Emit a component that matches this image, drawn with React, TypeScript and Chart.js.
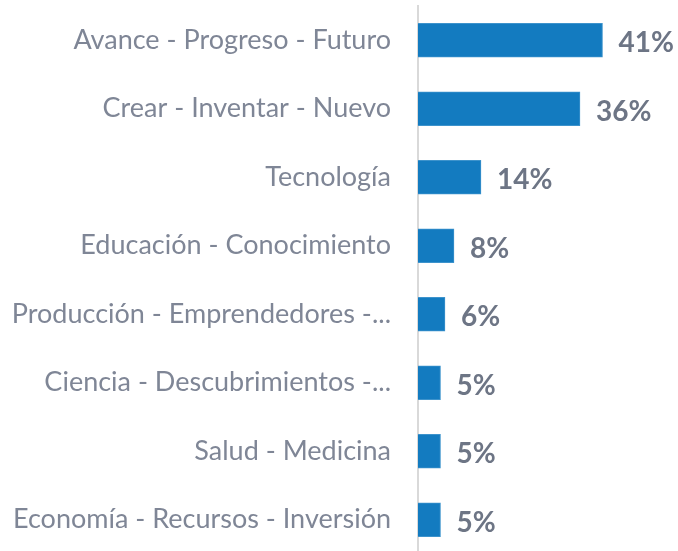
import React, { useEffect, useRef } from "react";
import { Chart, registerables } from "chart.js";

Chart.register(...registerables);

const categories = [
  "Avance - Progreso - Futuro",
  "Crear - Inventar - Nuevo",
  "Tecnología",
  "Educación - Conocimiento",
  "Producción - Emprendedores -...",
  "Ciencia - Descubrimientos -...",
  "Salud - Medicina",
  "Economía - Recursos - Inversión",
];
const values = [41, 36, 14, 8, 6, 5, 5, 5];
const valueLabels = ["41%", "36%", "14%", "8%", "6%", "5%", "5%", "5%"];

const valueLabelPlugin = {
  id: "valueLabels",
  afterDatasetsDraw(chart: any) {
    const ctx = chart.ctx;
    const meta = chart.getDatasetMeta(0);
    ctx.save();
    ctx.font = "bold 28px Lato";
    ctx.fillStyle = "#6d7585";
    ctx.textAlign = "left";
    ctx.textBaseline = "middle";
    meta.data.forEach((bar: any, i: number) => {
      ctx.fillText(valueLabels[i], bar.x + 16, bar.y + 3);
    });
    ctx.restore();
  },
};

export default function App() {
  const ref = useRef<HTMLCanvasElement>(null);
  useEffect(() => {
    if (!ref.current) return;
    const chart = new Chart(ref.current, {
      type: "bar",
      data: {
        labels: categories,
        datasets: [
          {
            data: values,
            backgroundColor: "#137bc0",
            borderColor: "#3d93cc",
            borderWidth: 1,
            barThickness: 34,
          },
        ],
      },
      options: {
        indexAxis: "y",
        responsive: false,
        animation: false,
        layout: { padding: { top: 6, right: 35, bottom: 0, left: 0 } },
        plugins: { legend: { display: false }, tooltip: { enabled: false } },
        scales: {
          x: { display: false, min: 0, max: 50 },
          y: {
            afterFit(scale: any) {
              scale.width = 418;
              scale.paddingTop = 0;
              scale.paddingBottom = 0;
            },
            grid: { display: false, drawTicks: false },
            border: { display: true, color: "#d9d9d9", width: 2 },
            ticks: {
              color: "#7f8696",
              padding: 27,
              font: { family: "Lato", size: 27 },
            },
          },
        },
      },
      plugins: [valueLabelPlugin],
    });
    return () => chart.destroy();
  }, []);
  return (
    <div style={{ position: "fixed", left: 0, top: 0, width: 678, height: 551, overflow: "hidden", background: "#fff" }}>
      <canvas ref={ref} width={678} height={554} style={{ display: "block" }} />
    </div>
  );
}
